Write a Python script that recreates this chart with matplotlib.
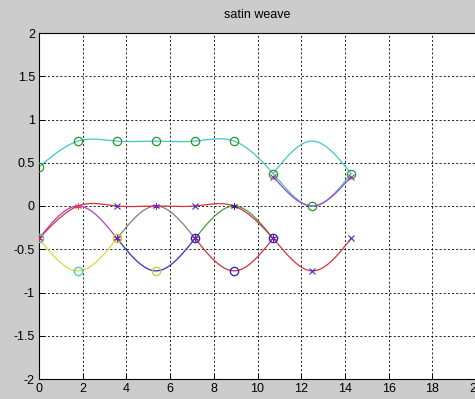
import numpy as np
import matplotlib
matplotlib.use("Agg")
import matplotlib.pyplot as plt

plt.rcParams['font.family'] = ['Liberation Sans', 'DejaVu Sans']

# ---- data ----
nodes_x = [0.0, 1.786, 3.571, 5.357, 7.143, 8.929, 10.714, 12.5, 14.286]

cyan_main_y = [0.45, 0.75, 0.75, 0.75, 0.75, 0.75, 0.375, 0.0, 0.375]
cyan_loop_x = [10.714, 12.5, 14.286]
cyan_loop_y = [0.375, 0.75, 0.375]
magenta_up_x = [10.714, 12.5, 14.286]
magenta_up_y = [0.34, 0.0, 0.34]

red_long_y = [-0.375, 0.0, 0.0, 0.0, 0.0, 0.0, -0.375, -0.75, -0.375]
down_y = [-0.375, -0.75, -0.375]
up_y = [-0.375, 0.0, -0.375]
yellow_x = [0.0, 1.786, 3.571]
blue_x = [3.571, 5.357, 7.143]
red_short_x = [7.143, 8.929, 10.714]
magenta_x = [0.0, 1.786, 3.571]
gray_x = [3.571, 5.357, 7.143]
green_x = [7.143, 8.929, 10.714]

low_circle_x = [0.0, 1.786, 3.571, 5.357, 7.143, 8.929, 10.714]
low_circle_y = [-0.375, -0.75, -0.375, -0.75, -0.375, -0.75, -0.375]
low_circle_c = ['#40c8c8', '#40c8c8', '#c8c830', '#c8c830', '#2020c0', '#2020c0', '#2020c0']

star_x = [0.0, 1.786, 3.571, 5.357, 7.143, 8.929, 10.714]
star_y = [-0.375, 0.0, -0.375, 0.0, -0.375, 0.0, -0.375]
star_c = ['#d02050', '#e04060', '#8020a0', '#8020c0', '#8020a0', '#402080', '#8020a0']

bx_x = [3.571, 7.143, 12.5, 14.286]
bx_y = [0.0, 0.0, -0.75, -0.375]
mx_x = [10.714, 14.286]
mx_y = [0.34, 0.34]

xticks = [0, 2, 4, 6, 8, 10, 12, 14, 16, 18, 20]
yticks = [-2, -1.5, -1, -0.5, 0, 0.5, 1, 1.5, 2]
ytick_labels = ['-2', '-1.5', '-1', '-0.5', '0', '0.5', '1', '1.5', '2']


def natural_spline(x, y, n=200):
    x = np.asarray(x, float)
    y = np.asarray(y, float)
    m = len(x)
    h = np.diff(x)
    A = np.zeros((m, m))
    b = np.zeros(m)
    A[0, 0] = 1
    A[-1, -1] = 1
    for i in range(1, m - 1):
        A[i, i - 1] = h[i - 1]
        A[i, i] = 2 * (h[i - 1] + h[i])
        A[i, i + 1] = h[i]
        b[i] = 6 * ((y[i + 1] - y[i]) / h[i] - (y[i] - y[i - 1]) / h[i - 1])
    M = np.linalg.solve(A, b)
    xs = np.linspace(x[0], x[-1], n)
    idx = np.clip(np.searchsorted(x, xs) - 1, 0, m - 2)
    x0 = x[idx]; x1 = x[idx + 1]; hh = x1 - x0
    t1 = x1 - xs; t0 = xs - x0
    ys = (M[idx] * t1 ** 3 + M[idx + 1] * t0 ** 3) / (6 * hh) \
        + (y[idx] / hh - M[idx] * hh / 6) * t1 \
        + (y[idx + 1] / hh - M[idx + 1] * hh / 6) * t0
    return xs, ys


fig = plt.figure(figsize=(4.75, 3.99), dpi=100, facecolor='#cccccc')
ax = fig.add_axes([39 / 475, 20 / 399, 437 / 475, 346 / 399])
ax.set_facecolor('white')

lw = 0.9
def curve(x, y, c, z=2):
    xs, ys = natural_spline(x, y)
    ax.plot(xs, ys, color=c, lw=lw, zorder=z)

curve(nodes_x, cyan_main_y, '#40c8c8')
curve(cyan_loop_x, cyan_loop_y, '#40c8c8')
curve(magenta_up_x, magenta_up_y, '#b040c0')

curve(yellow_x, down_y, '#d8d840')
curve(blue_x, down_y, '#3030c0')
curve(red_short_x, down_y, '#d03040')
curve(magenta_x, up_y, '#b040c0')
curve(gray_x, up_y, '#808080')
curve(green_x, up_y, '#40a040')
curve(nodes_x, red_long_y, '#d83040', z=3)

ax.plot(nodes_x, cyan_main_y, 'o', ms=6, mfc='none', mec='#2a9a2a', mew=0.9, zorder=4)
for x, y, c in zip(low_circle_x, low_circle_y, low_circle_c):
    ax.plot(x, y, 'o', ms=6, mfc='none', mec=c, mew=0.9, zorder=4)
for x, y, c in zip(star_x, star_y, star_c):
    ax.plot(x, y, marker=(6, 2, 0), ms=5, color=c, mew=0.7, zorder=5)
ax.plot(bx_x, bx_y, 'x', ms=4.5, color='#3030d0', mew=0.8, zorder=5)
ax.plot(mx_x, mx_y, 'x', ms=4, color='#a030a0', mew=0.8, zorder=5)

ax.set_xlim(0, 20)
ax.set_ylim(-2, 2)
ax.set_xticks(xticks)
ax.set_xticklabels([str(t) for t in xticks])
ax.set_yticks(yticks)
ax.set_yticklabels(ytick_labels)
ax.grid(True, color='black', linestyle=(0, (2.5, 2.5)), lw=0.6)
ax.set_axisbelow(True)
ax.tick_params(direction='in', length=4, width=0.7, labelsize=9, pad=3,
               top=False, right=False)
for s in ax.spines.values():
    s.set_linewidth(0.8)
ax.set_title('satin weave', fontsize=9, pad=11)

fig.savefig('out.png', dpi=100, facecolor=fig.get_facecolor())
